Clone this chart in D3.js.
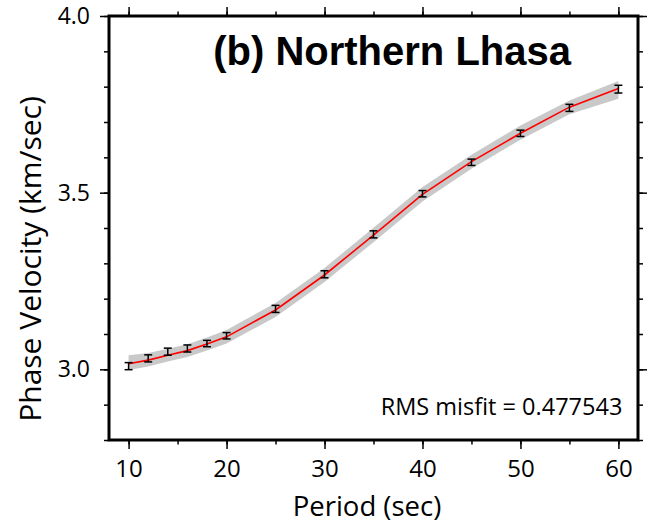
<!DOCTYPE html>
<html lang="en">
<head>
<meta charset="utf-8">
<script src="https://d3js.org/d3.v7.min.js"></script>
<style type="text/css">
body {
	margin: 0;
	background: white;
}
.tick text, .lbl {
	font-family: "Open Sans", sans-serif;
	fill: #000;
}
</style>
</head>
<body>
<script type="text/javascript">

// Phase velocity dispersion data
var periods   = [10, 12, 14, 16, 18, 20, 25, 30, 35, 40, 45, 50, 55, 60];
var observed  = [3.009, 3.031, 3.050, 3.059, 3.073, 3.095, 3.171, 3.269, 3.382, 3.497, 3.586, 3.668, 3.740, 3.793];
var obsError  = [0.010, 0.010, 0.010, 0.010, 0.009, 0.009, 0.010, 0.010, 0.010, 0.009, 0.009, 0.009, 0.010, 0.011];
var predicted = [3.016, 3.026, 3.040, 3.053, 3.072, 3.092, 3.168, 3.267, 3.380, 3.495, 3.588, 3.668, 3.742, 3.795];
var bandUpper = [3.040, 3.046, 3.058, 3.071, 3.090, 3.111, 3.188, 3.287, 3.401, 3.516, 3.607, 3.690, 3.761, 3.816];
var bandLower = [2.998, 3.008, 3.022, 3.035, 3.053, 3.073, 3.148, 3.247, 3.360, 3.475, 3.568, 3.650, 3.722, 3.766];

var xMajor = [10, 20, 30, 40, 50, 60];
var yMajor = [3.0, 3.5, 4.0];

var width = 652;
var height = 528;
var margin = {left: 109, top: 16, right: 14, bottom: 88};
var w = width - margin.left - margin.right;
var h = height - margin.top - margin.bottom;

var svg = d3.select("body")
	.append("svg")
	.attr("width", width)
	.attr("height", height);

var g = svg.append("g")
	.attr("transform", "translate(" + margin.left + "," + margin.top + ")");

var x = d3.scaleLinear().domain([8, 62]).range([0, w]);
var y = d3.scaleLinear().domain([2.8, 4.0]).range([h, 0]);

var rows = periods.map(function(p, i) {
	return {p: p, v: observed[i], e: obsError[i], m: predicted[i], hi: bandUpper[i], lo: bandLower[i]};
});

// gray envelope of models
g.append("path")
	.datum(rows)
	.attr("fill", "#c9c9c9")
	.attr("d", d3.area()
		.x(function(d) { return x(d.p); })
		.y0(function(d) { return y(d.lo); })
		.y1(function(d) { return y(d.hi); }));

// predicted curve
g.append("path")
	.datum(rows)
	.attr("fill", "none")
	.attr("stroke", "#ff0000")
	.attr("stroke-width", 1.6)
	.attr("d", d3.line()
		.x(function(d) { return x(d.p); })
		.y(function(d) { return y(d.m); }));

// error bars
var bars = g.selectAll(".ebar")
	.data(rows)
	.enter()
	.append("g")
	.attr("class", "ebar")
	.attr("stroke", "#000")
	.attr("stroke-width", 1.5);

bars.append("line")
	.attr("x1", function(d) { return x(d.p); })
	.attr("x2", function(d) { return x(d.p); })
	.attr("y1", function(d) { return y(d.v - d.e); })
	.attr("y2", function(d) { return y(d.v + d.e); });
bars.append("line")
	.attr("x1", function(d) { return x(d.p) - 4; })
	.attr("x2", function(d) { return x(d.p) + 4; })
	.attr("y1", function(d) { return y(d.v - d.e); })
	.attr("y2", function(d) { return y(d.v - d.e); });
bars.append("line")
	.attr("x1", function(d) { return x(d.p) - 4; })
	.attr("x2", function(d) { return x(d.p) + 4; })
	.attr("y1", function(d) { return y(d.v + d.e); })
	.attr("y2", function(d) { return y(d.v + d.e); });

// axes: minor and major ticks, outward on all sides
var xMinor = d3.range(10, 61, 5);
var yMinor = d3.range(28, 41).map(function(d) { return d / 10; });

function drawAxis(axisFn, scale, vals, size, labels, transform) {
	var a = g.append("g")
		.attr("transform", transform)
		.call(axisFn(scale).tickValues(vals).tickSize(size).tickPadding(8)
			.tickFormat(labels ? labels : ""));
	a.select(".domain").remove();
	a.selectAll(".tick line").attr("stroke-width", 1.5);
	return a;
}

drawAxis(d3.axisBottom, x, xMinor, 4.5, null, "translate(0," + h + ")");
drawAxis(d3.axisTop, x, xMinor, 4.5, null, "translate(0,0)");
drawAxis(d3.axisLeft, y, yMinor, 5, null, "translate(0,0)");
drawAxis(d3.axisRight, y, yMinor, 5, null, "translate(" + w + ",0)");

var xb = drawAxis(d3.axisBottom, x, xMajor, 9, d3.format("d"), "translate(0," + h + ")");
drawAxis(d3.axisTop, x, xMajor, 9, null, "translate(0,0)");
var yl = drawAxis(d3.axisLeft, y, yMajor, 9, d3.format(".1f"), "translate(0,0)");
drawAxis(d3.axisRight, y, yMajor, 9, null, "translate(" + w + ",0)");

xb.selectAll(".tick text").style("font-size", "24px").attr("dy", "0.85em");
yl.selectAll(".tick text").style("font-size", "23px").attr("dx", "-2px");

// frame
g.append("rect")
	.attr("width", w)
	.attr("height", h)
	.attr("fill", "none")
	.attr("stroke", "#000")
	.attr("stroke-width", 3);

// texts
g.append("text")
	.attr("x", x(36.9))
	.attr("y", 49)
	.attr("text-anchor", "middle")
	.style("font-family", "'Liberation Sans', Arial, sans-serif")
	.style("font-weight", "bold")
	.style("font-size", "40px")
	.text("(b) Northern Lhasa");

g.append("text")
	.attr("class", "lbl")
	.attr("x", x(60.4))
	.attr("y", 399)
	.attr("text-anchor", "end")
	.style("font-size", "23.5px")
	.text("RMS misfit = 0.477543");

svg.append("text")
	.attr("class", "lbl")
	.attr("x", 367)
	.attr("y", 516)
	.attr("text-anchor", "middle")
	.style("font-size", "27.5px")
	.text("Period (sec)");

svg.append("text")
	.attr("class", "lbl")
	.attr("transform", "translate(41,259) rotate(-90)")
	.attr("text-anchor", "middle")
	.style("font-size", "30px")
	.text("Phase Velocity (km/sec)");

</script>
</body>
</html>
